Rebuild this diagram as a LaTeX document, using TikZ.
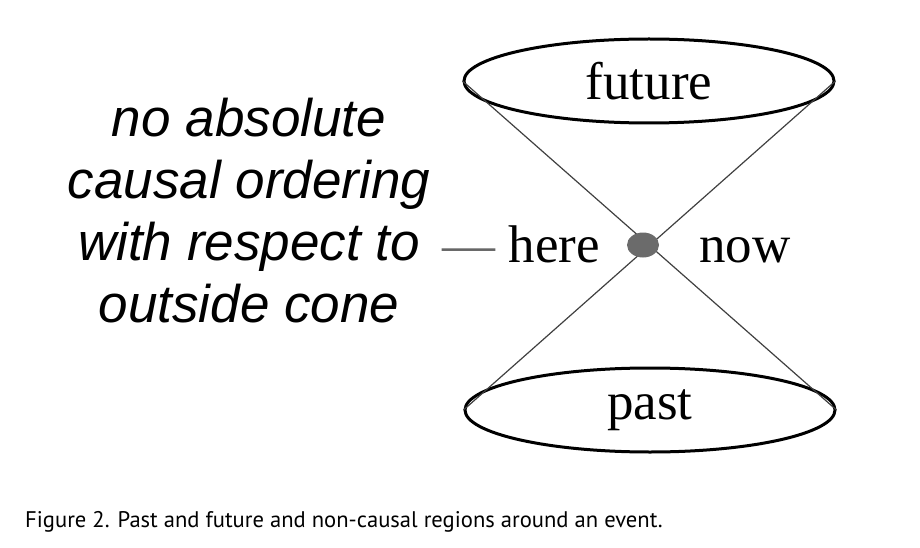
\documentclass[tikz,border=0pt]{standalone}
\usepackage{fontspec}
\setmainfont{Liberation Serif}
\newfontfamily\notefont{Liberation Sans}
\newfontfamily\capfont{PT Sans}
\usetikzlibrary{shapes.geometric}
\begin{document}
\begin{tikzpicture}[x=1pt,y=-1pt,
  region/.style={ellipse,draw,line width=3pt,minimum width=370pt,minimum height=84pt,inner sep=0pt,font=\fontsize{53}{62}\selectfont},
  word/.style={inner sep=0pt,font=\fontsize{53}{62}\selectfont},
  cone/.style={draw=black!75,line width=1.2pt}]
\useasboundingbox (0,0) rectangle (920,548);
\node[region] (future) at (649,81) {future};
\node[region] (past) at (650,410) {past};
\draw[cone] (future.west) -- (past.east);
\draw[cone] (future.east) -- (past.west);
\node[ellipse,fill=black!58,minimum width=32pt,minimum height=25pt,inner sep=0pt] (event) at (643,245) {};
\node[word,anchor=base] (here) at (521,262) {{\color{black!60}---} here};
\node[word,anchor=base] (now) at (745,262) {now};
\node[inner sep=0pt,align=center,anchor=north,font=\notefont\itshape\fontsize{53}{62}\selectfont] (note) at (249,98) {no absolute\\causal ordering\\with respect to\\outside cone};
\node[inner sep=0pt,anchor=base west,font=\capfont\fontsize{22.6}{26}\selectfont] (caption) at (25,527) {Figure 2. Past and future and non-causal regions around an event.};
\end{tikzpicture}
\end{document}
